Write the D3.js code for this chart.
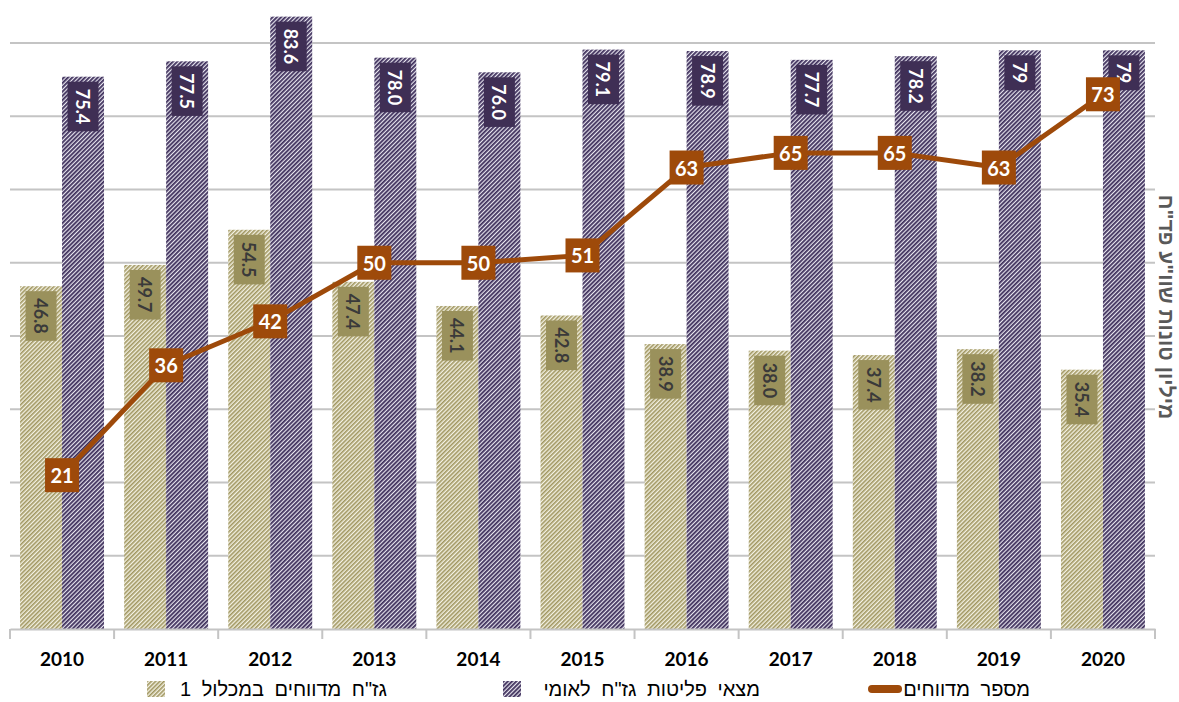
<!DOCTYPE html>
<html>
<head>
<meta charset="utf-8">
<script src="https://cdn.jsdelivr.net/npm/d3@7"></script>
<style>
  body { margin: 0; background: #fff; }
  svg { display: block; }
</style>
</head>
<body>
<svg id="chart"></svg>
<script>
// data
let years = ["2010", "2011", "2012", "2013", "2014", "2015", "2016", "2017", "2018", "2019", "2020"]
let reported = [46.8, 49.7, 54.5, 47.4, 44.1, 42.8, 38.9, 38.0, 37.4, 38.2, 35.4]
let inventory = [75.4, 77.5, 83.6, 78.0, 76.0, 79.1, 78.9, 77.7, 78.2, 79, 79]
let inventoryLabels = ["75.4", "77.5", "83.6", "78.0", "76.0", "79.1", "78.9", "77.7", "78.2", "79", "79"]
let reportedLabels = ["46.8", "49.7", "54.5", "47.4", "44.1", "42.8", "38.9", "38.0", "37.4", "38.2", "35.4"]
let reportsCount = [21, 36, 42, 50, 50, 51, 63, 65, 65, 63, 73]
let gridValues = [10, 20, 30, 40, 50, 60, 70, 80]
let seriesNames = ['גז"ח מדווחים במכלול 1', 'מצאי פליטות גז"ח לאומי', 'מספר מדווחים']
let yTitle = 'מיליון טונות שוו"ע פד"ח'

// colors
let khaki = "#a09660"
let khakiBox = "#9a915c"
let purple = "#3f305c"
let purpleBox = "#3f2f55"
let brown = "#9e4a0a"
let grid = "#c4c4c4"

let width = 1179,
    height = 702,
    plotLeft = 10,
    plotRight = 1155,
    plotTop = 43,
    plotBottom = 629;

let svg = d3.select("#chart")
    .attr("width", width)
    .attr("height", height);

// patterns
let defs = svg.append("defs");
function stripes(id, fg, bg, w) {
  let p = defs.append("pattern")
      .attr("id", id)
      .attr("patternUnits", "userSpaceOnUse")
      .attr("width", 3)
      .attr("height", 3)
      .attr("patternTransform", "rotate(45)");
  p.append("rect").attr("width", 3).attr("height", 3).attr("fill", bg);
  p.append("rect").attr("width", w).attr("height", 3).attr("fill", fg);
}
stripes("patKhaki", khaki, "#f4f2e4", 1.6);
stripes("patPurple", purple, "#e8e6ef", 1.8);

let x = d3.scaleBand()
    .domain(years)
    .range([plotLeft, plotRight])
    .padding(0);

let inner = d3.scaleBand()
    .domain(["reported", "inventory"])
    .range([0, x.bandwidth()])
    .paddingInner(0)
    .paddingOuter(0.24);

let y = d3.scaleLinear()
    .domain([0, 80])
    .range([plotBottom, plotTop]);

// gridlines
svg.append("g")
  .selectAll("line")
  .data(gridValues)
  .join("line")
    .attr("x1", plotLeft)
    .attr("x2", plotRight)
    .attr("y1", d => y(d))
    .attr("y2", d => y(d))
    .attr("stroke", grid)
    .attr("stroke-width", 2);

// bars
let bars = svg.append("g");
bars.selectAll(".khaki")
  .data(reported)
  .join("rect")
    .attr("class", "khaki")
    .attr("x", (d, i) => x(years[i]) + inner("reported"))
    .attr("y", d => y(d))
    .attr("width", inner.bandwidth())
    .attr("height", d => y(0) - y(d))
    .attr("fill", "url(#patKhaki)");

bars.selectAll(".purple")
  .data(inventory)
  .join("rect")
    .attr("class", "purple")
    .attr("x", (d, i) => x(years[i]) + inner("inventory"))
    .attr("y", d => y(d))
    .attr("width", inner.bandwidth())
    .attr("height", d => y(0) - y(d))
    .attr("fill", "url(#patPurple)");

// x axis
let xAxis = d3.axisBottom(x).tickSize(0).tickPadding(24);
let gx = svg.append("g")
    .attr("transform", `translate(0,${plotBottom})`)
    .call(xAxis);
gx.select(".domain").attr("stroke", grid).attr("stroke-width", 2);
gx.selectAll(".tick text")
    .attr("font-family", "Lato, 'Open Sans', sans-serif")
    .attr("font-weight", "bold")
    .attr("font-size", 19)
    .attr("fill", "#000");
gx.selectAll(".edge")
  .data(years.map(d => x(d)).concat([plotRight]))
  .join("line")
    .attr("class", "edge")
    .attr("x1", d => d)
    .attr("x2", d => d)
    .attr("y1", 0)
    .attr("y2", 10)
    .attr("stroke", grid)
    .attr("stroke-width", 2);

// value labels on bars (rotated, inside end)
function barLabels(values, labels, key, boxColor, textColor) {
  let g = svg.append("g");
  values.forEach((v, i) => {
    let cx = x(years[i]) + inner(key) + inner.bandwidth() / 2;
    let lab = g.append("g");
    let t = lab.append("text")
        .text(labels[i])
        .attr("font-family", "Lato, 'Open Sans', sans-serif")
        .attr("font-weight", "bold")
        .attr("font-size", 18)
        .attr("fill", textColor)
        .attr("text-anchor", "middle")
        .attr("dominant-baseline", "central");
    let len = t.node().getComputedTextLength();
    let h = len + 14, w = 31;
    let cy = y(v) + 5 + h / 2;
    lab.insert("rect", "text")
        .attr("x", cx - w / 2)
        .attr("y", cy - h / 2)
        .attr("width", w)
        .attr("height", h)
        .attr("fill", boxColor);
    t.attr("transform", `translate(${cx},${cy}) rotate(90)`);
  });
}
barLabels(reported, reportedLabels, "reported", khakiBox, "#3a3a3a");
barLabels(inventory, inventoryLabels, "inventory", purpleBox, "#fff");

// line
let cxLine = d => x(d) + x.bandwidth() / 2;
let line = d3.line()
    .x((d, i) => cxLine(years[i]))
    .y(d => y(d));

svg.append("path")
    .datum(reportsCount)
    .attr("d", line)
    .attr("fill", "none")
    .attr("stroke", brown)
    .attr("stroke-width", 5);

let marks = svg.append("g")
  .selectAll("g")
  .data(reportsCount)
  .join("g")
    .attr("transform", (d, i) => `translate(${cxLine(years[i])},${y(d)})`);
marks.append("rect")
    .attr("x", -17)
    .attr("y", -17)
    .attr("width", 34)
    .attr("height", 34)
    .attr("fill", brown);
marks.append("text")
    .text(d => d)
    .attr("text-anchor", "middle")
    .attr("dominant-baseline", "central")
    .attr("font-family", "Lato, 'Open Sans', sans-serif")
    .attr("font-weight", "bold")
    .attr("font-size", 20)
    .attr("fill", "#fff");

// y axis title (right side)
svg.append("text")
    .text(yTitle)
    .attr("transform", "translate(1166,307) rotate(90)")
    .attr("text-anchor", "middle")
    .attr("dominant-baseline", "central")
    .attr("direction", "rtl")
    .attr("font-family", "'Liberation Sans', 'DejaVu Sans', sans-serif")
    .attr("font-weight", "bold")
    .attr("font-size", 21)
    .attr("fill", "#595959");

// legend
let legendY = 689;
let legendFont = "'Liberation Sans', 'DejaVu Sans', sans-serif";
let legendItems = [
  { name: seriesNames[0], textRight: 387, sw: 147, kind: "patKhaki" },
  { name: seriesNames[1], textRight: 760, sw: 503, kind: "patPurple" },
  { name: seriesNames[2], textRight: 1030, sw: 869, kind: "line" }
];
let lg = svg.append("g");
legendItems.forEach(it => {
  if (it.kind === "line") {
    lg.append("line")
        .attr("x1", it.sw + 3).attr("x2", it.sw + 29)
        .attr("y1", legendY).attr("y2", legendY)
        .attr("stroke", brown)
        .attr("stroke-width", 8)
        .attr("stroke-linecap", "round");
  } else {
    lg.append("rect")
        .attr("x", it.sw).attr("y", legendY - 8)
        .attr("width", 18).attr("height", 16)
        .attr("fill", `url(#${it.kind})`);
  }
  lg.append("text")
      .text(it.name)
      .attr("x", it.textRight)
      .attr("y", legendY)
      .attr("direction", "rtl")
      .attr("text-anchor", "start")
      .attr("dominant-baseline", "central")
      .attr("font-family", legendFont)
      .attr("font-size", 20)
      .attr("word-spacing", 5)
      .attr("fill", "#000");
});
</script>
</body>
</html>
